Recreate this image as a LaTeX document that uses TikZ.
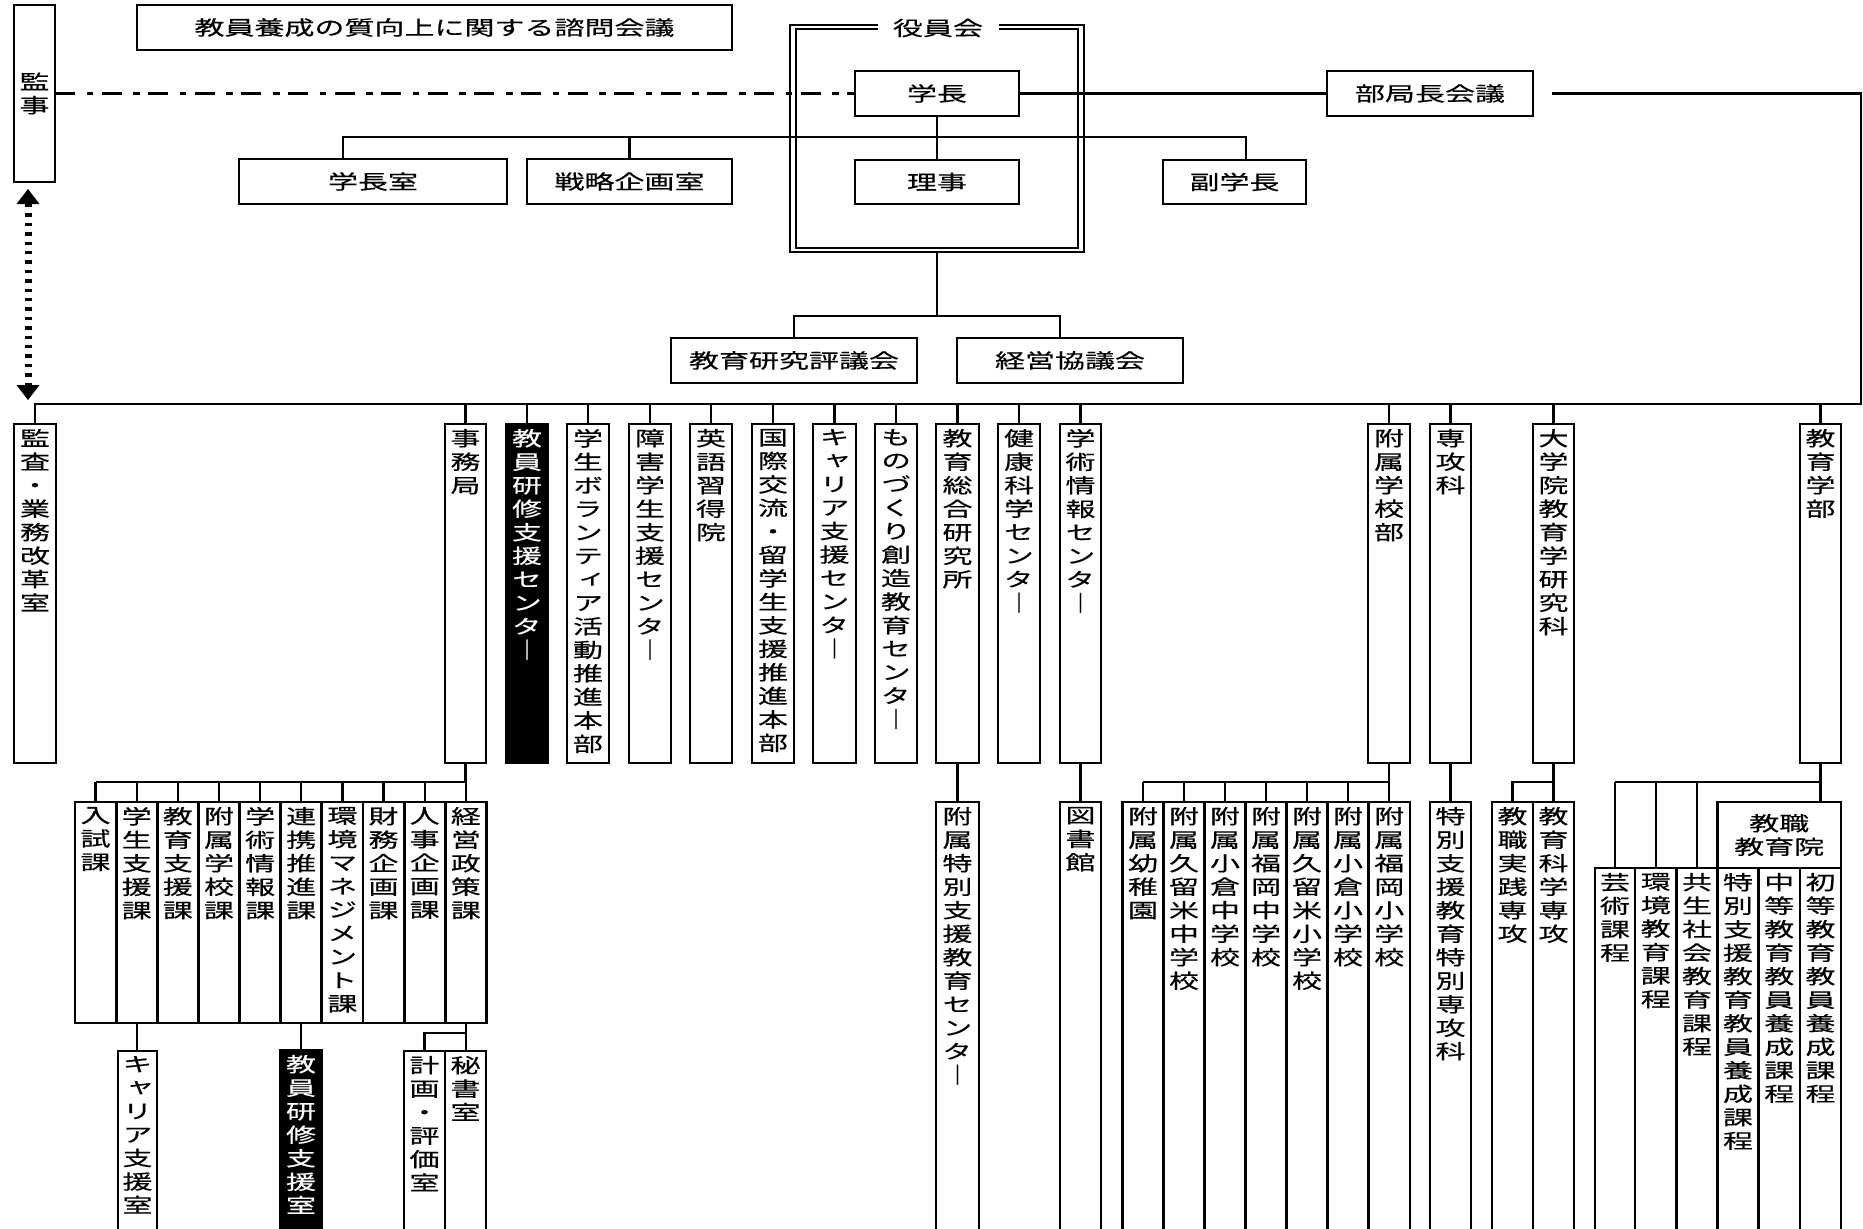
\documentclass[tikz,border=0pt]{standalone}
\usepackage{fontspec}
\setmainfont[FakeStretch=1.5,FakeBold=0.4]{Noto Sans CJK JP}
\newfontfamily\vjp[FakeStretch=1.5,FakeBold=0.4,RawFeature=+vert]{Noto Sans CJK JP}
\usetikzlibrary{arrows.meta}
\makeatletter
\def\vstk#1{\vbox{\vjp\baselineskip=11.75pt\lineskiplimit=-100pt\lineskip=0pt\vstk@#1\relax}}
\def\vstk@#1{\ifx\relax#1\else\hbox to 16pt{\hss#1\hss}\expandafter\vstk@\fi}
\makeatother
\newcommand\vbarch{{\rmfamily ｜}}
\newcommand\bx[6][]{\node[boxst,#1,minimum width={(#5-#3)*0.5pt},minimum height={(#6-#4)*0.5pt},anchor=north west] (#2) at (#3,#4) {};}
\newcommand\hcol[6]{\node[boxst,minimum width={(#4-#2)*0.5pt},minimum height={(#5-#3)*0.5pt},anchor=north west] (#1) at (#2,#3) {#6};}
\newcommand\vcol[7][]{\bx[#1]{#2}{#3}{#4}{#5}{#6}\node[#1,anchor=north,yshift=-2.5pt] (#2-t) at (#2.north) {\vstk{#7}};}
\begin{document}
\begin{tikzpicture}[x=0.5pt,y=-0.5pt,
  every node/.style={font=\fontsize{10pt}{11.75pt}\selectfont, inner sep=0pt, outer sep=0pt, align=center},
  boxst/.style={draw, line width=1.4pt, rectangle},
  ln/.style={line width=1.2pt},
  dark/.style={fill=black, text=white},
  dashdotst/.style={line width=1.3pt, dash pattern=on 10pt off 5.8pt on 3.3pt off 4.2pt},
  dotar/.style={line width=3.5pt, dash pattern=on 1.7pt off 3pt,
    {Triangle[width=11.5pt,length=7.5pt,line width=0pt]}-{Triangle[width=11.5pt,length=7.5pt,line width=0pt]}}]
\useasboundingbox (0,0) rectangle (1863,1228);
\fill[white] (0,0) rectangle (1863,1228);

% ---------- top part ----------
\bx{kanji}{14}{5}{55}{182}
\node (kanji-t) at (kanji.center) {\vstk{監事}};
\hcol{shimon}{137}{5}{732}{50}{教員養成の質向上に関する諮問会議}

\node[draw,line width=1.25pt,minimum width={294*0.5pt},minimum height={227*0.5pt},anchor=north west] (yakuin) at (790,25) {};
\node[draw,line width=0.75pt,minimum width={282*0.5pt},minimum height={219*0.5pt},anchor=north west] (yakuinin) at (796,29) {};
\node[fill=white,minimum width={121*0.5pt},minimum height=9pt] (yklabel) at (938,28) {役員会};

\hcol{gakucho}{855}{71}{1019}{116}{学長}
\hcol{riji}{855}{160}{1019}{204}{理事}
\hcol{gchs}{239}{159}{507}{204}{学長室}
\hcol{senryaku}{527}{159}{732}{204}{戦略企画室}
\hcol{fuku}{1163}{160}{1306}{204}{副学長}
\hcol{bukyoku}{1327}{71}{1533}{116}{部局長会議}
\hcol{hyogi}{671}{338}{917}{383}{教育研究評議会}
\hcol{keiei}{957}{338}{1183}{383}{経営協議会}

\draw[dashdotst] (kanji.east) -- (gakucho.west);
\draw[ln] (gakucho.south) -- (riji.north);
\coordinate (t1) at (343,137);
\coordinate (t2) at (1246,137);
\draw[ln] (t1 |- gchs.north) -- (t1) -- (t2) -- (t2 |- fuku.north);
\draw[ln] (senryaku.north) -- (senryaku.north |- t1);
\draw[ln] (gakucho.east) -- (bukyoku.west);

\coordinate (r1) at (1552,93.5);
\coordinate (r2) at (1861,404);
\coordinate (y1) at (937,316);
\coordinate (k2) at (1060,316);
\draw[ln] (yakuin.south) -- (y1);
\draw[ln] (hyogi.north) |- (k2) -- (k2 |- keiei.north);

\coordinate (a1) at (28,189);
\coordinate (a2) at (28,400);
\draw[dotar] (a1) -- (a2);

% ---------- second row ----------
\vcol{kansa}{14}{424}{56}{763}{監査・業務改革室}
\vcol{jimu}{445}{424}{486}{763}{事務局}
\vcol[dark]{kenshu}{506}{424}{548}{763}{教員研修支援センタ\vbarch}
\vcol{vol}{567}{424}{609}{763}{学生ボランティア活動推進本部}
\vcol{shogai}{629}{424}{671}{763}{障害学生支援センタ\vbarch}
\vcol{eigo}{690}{424}{732}{763}{英語習得院}
\vcol{kokusai}{752}{424}{794}{763}{国際交流・留学生支援推進本部}
\vcol{career}{813}{424}{856}{763}{キャリア支援センタ\vbarch}
\vcol{mono}{875}{424}{917}{763}{ものづくり創造教育センタ\vbarch}
\vcol{sogo}{936}{424}{979}{763}{教育総合研究所}
\vcol{kenko}{998}{424}{1040}{763}{健康科学センタ\vbarch}
\vcol{gakujutsu}{1060}{424}{1101}{763}{学術情報センタ\vbarch}
\vcol{fuzoku}{1368}{424}{1410}{763}{附属学校部}
\vcol{senkoka}{1430}{424}{1471}{763}{専攻科}
\vcol{daigakuin}{1533}{424}{1574}{763}{大学院教育学研究科}
\vcol{gakubu}{1800}{424}{1841}{763}{教育学部}

\draw[ln] (r1) -| (r2) -- (kansa.north |- r2) -- (kansa.north);
\foreach \n in {jimu,kenshu,vol,shogai,eigo,kokusai,career,mono,sogo,kenko,gakujutsu,fuzoku,senkoka,daigakuin,gakubu}
  \draw[ln] (\n.north) -- (\n.north |- r2);

% ---------- third row: 事務局 ----------
\vcol{ka0}{75}{802}{116.1}{1023}{入試課}
\vcol{ka1}{116.1}{802}{157.3}{1023}{学生支援課}
\vcol{ka2}{157.3}{802}{198.4}{1023}{教育支援課}
\vcol{ka3}{198.4}{802}{239.6}{1023}{附属学校課}
\vcol{ka4}{239.6}{802}{280.7}{1023}{学術情報課}
\vcol{ka5}{280.7}{802}{321.8}{1023}{連携推進課}
\vcol{ka6}{321.8}{802}{363}{1023}{環境マネジメント課}
\vcol{ka7}{363}{802}{404.1}{1023}{財務企画課}
\vcol{ka8}{404.1}{802}{445.3}{1023}{人事企画課}
\vcol{ka9}{445.3}{802}{486.4}{1023}{経営政策課}
\path (jimu.south) ++(0,19) coordinate (jm);
\draw[ln] (jimu.south) -- (jm) -- (jm -| ka0.north);
\foreach \n in {ka0,ka1,ka2,ka3,ka4,ka5,ka6,ka7,ka8,ka9}
  \draw[ln] (\n.north) -- (\n.north |- jm);

\vcol{careershitsu}{118}{1051}{157}{1250}{キャリア支援室}
\vcol[dark]{kenshushitsu}{280}{1050}{322}{1250}{教員研修支援室}
\vcol{keikaku}{404}{1051}{445}{1250}{計画・評価室}
\vcol{hisho}{445}{1051}{486}{1250}{秘書室}
\draw[ln] (ka1.south) -- (ka1.south |- careershitsu.north);
\draw[ln] (ka5.south) -- (ka5.south |- kenshushitsu.north);
\path (ka9.south) ++(0,10) coordinate (kp);
\draw[ln] (ka9.south) -- (ka9.south |- hisho.north);
\draw[ln] (kp) -| (keikaku.north);

% ---------- third row: others ----------
\vcol{tokushien}{936}{802}{979}{1250}{附属特別支援教育センタ\vbarch}
\draw[ln] (sogo.south) -- (tokushien.north);
\vcol{tosho}{1060}{802}{1101}{1250}{図書館}
\draw[ln] (gakujutsu.south) -- (tosho.north);

\vcol{s0}{1122.5}{802}{1163.5}{1250}{附属幼稚園}
\vcol{s1}{1163.5}{802}{1204.5}{1250}{附属久留米中学校}
\vcol{s2}{1204.5}{802}{1245.5}{1250}{附属小倉中学校}
\vcol{s3}{1245.5}{802}{1286.5}{1250}{附属福岡中学校}
\vcol{s4}{1286.5}{802}{1327.5}{1250}{附属久留米小学校}
\vcol{s5}{1327.5}{802}{1368.5}{1250}{附属小倉小学校}
\vcol{s6}{1368.5}{802}{1410}{1250}{附属福岡小学校}
\path (fuzoku.south) ++(0,19) coordinate (fz);
\draw[ln] (fuzoku.south) -- (fz) -- (fz -| s0.north);
\foreach \n in {s0,s1,s2,s3,s4,s5,s6}
  \draw[ln] (\n.north) -- (\n.north |- fz);

\vcol{tokubetsu}{1430}{802}{1471}{1250}{特別支援教育特別専攻科}
\draw[ln] (senkoka.south) -- (tokubetsu.north);

\vcol{jissen}{1492}{802}{1533}{1250}{教職実践専攻}
\vcol{kagaku}{1533}{802}{1574}{1250}{教育科学専攻}
\path (daigakuin.south) ++(0,19) coordinate (dg);
\draw[ln] (daigakuin.south) -- (kagaku.north);
\draw[ln] (dg) -| (jissen.north);

\hcol{kyoshoku}{1717.5}{802}{1841}{868}{教職\\教育院}
\vcol{g0}{1595}{868}{1635}{1250}{芸術課程}
\vcol{g1}{1635}{868}{1676.5}{1250}{環境教育課程}
\vcol{g2}{1676.5}{868}{1717.5}{1250}{共生社会教育課程}
\vcol{g3}{1717.5}{868}{1758.5}{1250}{特別支援教育教員養成課程}
\vcol{g4}{1758.5}{868}{1800}{1250}{中等教育教員養成課程}
\vcol{g5}{1800}{868}{1841}{1250}{初等教育教員養成課程}
\path (gakubu.south) ++(0,19) coordinate (gb);
\draw[ln] (gakubu.south) -- (gakubu.south |- kyoshoku.north);
\draw[ln] (gb) -- (gb -| g0.north);
\foreach \n in {g0,g1,g2}
  \draw[ln] (\n.north) -- (\n.north |- gb);
\end{tikzpicture}
\end{document}
